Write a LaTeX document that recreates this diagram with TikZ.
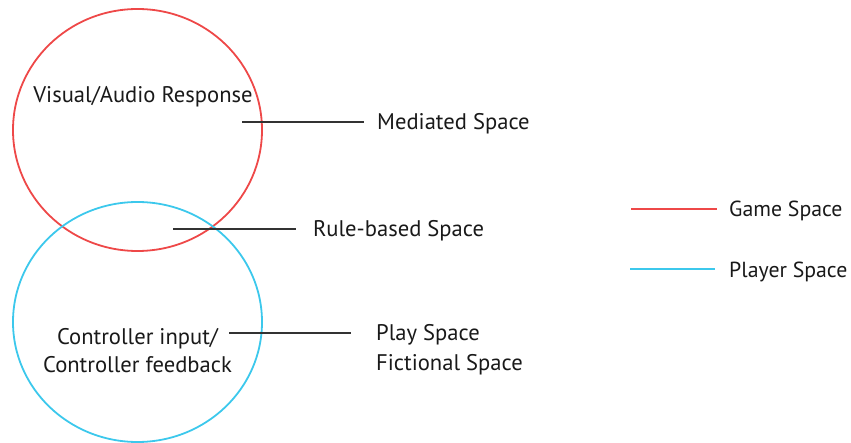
\documentclass[tikz,border=0pt]{standalone}
\usepackage{fontspec}
\setmainfont{PT Sans}
\definecolor{gamered}{RGB}{238,72,72}
\definecolor{playercyan}{RGB}{60,200,236}
\definecolor{leader}{RGB}{50,50,50}
\begin{document}
\begin{tikzpicture}[x=1pt,y=-1pt,
  lbl/.style={font=\fontsize{22.6}{28}\selectfont, inner sep=0pt, text=black!90},
  lblw/.style={lbl, anchor=west},
  legendlbl/.style={lblw, font=\fontsize{21.8}{28}\selectfont},
  ring/.style={line width=1.8pt},
  leadline/.style={draw=leader, line width=1.8pt}]
\useasboundingbox (0,0) rectangle (851,443);
% the two overlapping spaces
\draw[ring, gamered] (137.5,130) ellipse [x radius=124.5, y radius=121];
\draw[ring, playercyan] (137.5,322) ellipse [x radius=124.5, y radius=120];
% texts inside the circles
\node[lbl] (visual) at (143,97) {Visual/Audio Response};
\node[lbl, align=center] (ctrl) at (137.5,350.5) {Controller input/\\Controller feedback};
% leader lines and their labels
\coordinate (m0) at (242,122);
\coordinate (m1) at (364,122);
\node[lblw] (mediated) at (377,124) {Mediated Space};
\draw[leadline] (m0) -- (m1);
\coordinate (r0) at (173,229);
\coordinate (r1) at (296,229);
\node[lblw] (rule) at (313,230.5) {Rule-based Space};
\draw[leadline] (r0) -- (r1);
\coordinate (p0) at (229,333);
\coordinate (p1) at (351,333);
\node[lblw] (play) at (376,334.5) {Play Space};
\node[lblw] (fict) at (376,364.5) {Fictional Space};
\draw[leadline] (p0) -- (p1);
% legend
\coordinate (g0) at (631,209);
\coordinate (g1) at (717,209);
\node[legendlbl] (game) at (729,210.5) {Game Space};
\draw[gamered, line width=1.5pt] (g0) -- (g1);
\coordinate (c0) at (630,269);
\coordinate (c1) at (715,269);
\node[legendlbl] (player) at (729,271.5) {Player Space};
\draw[playercyan, line width=1.5pt] (c0) -- (c1);
\end{tikzpicture}
\end{document}
